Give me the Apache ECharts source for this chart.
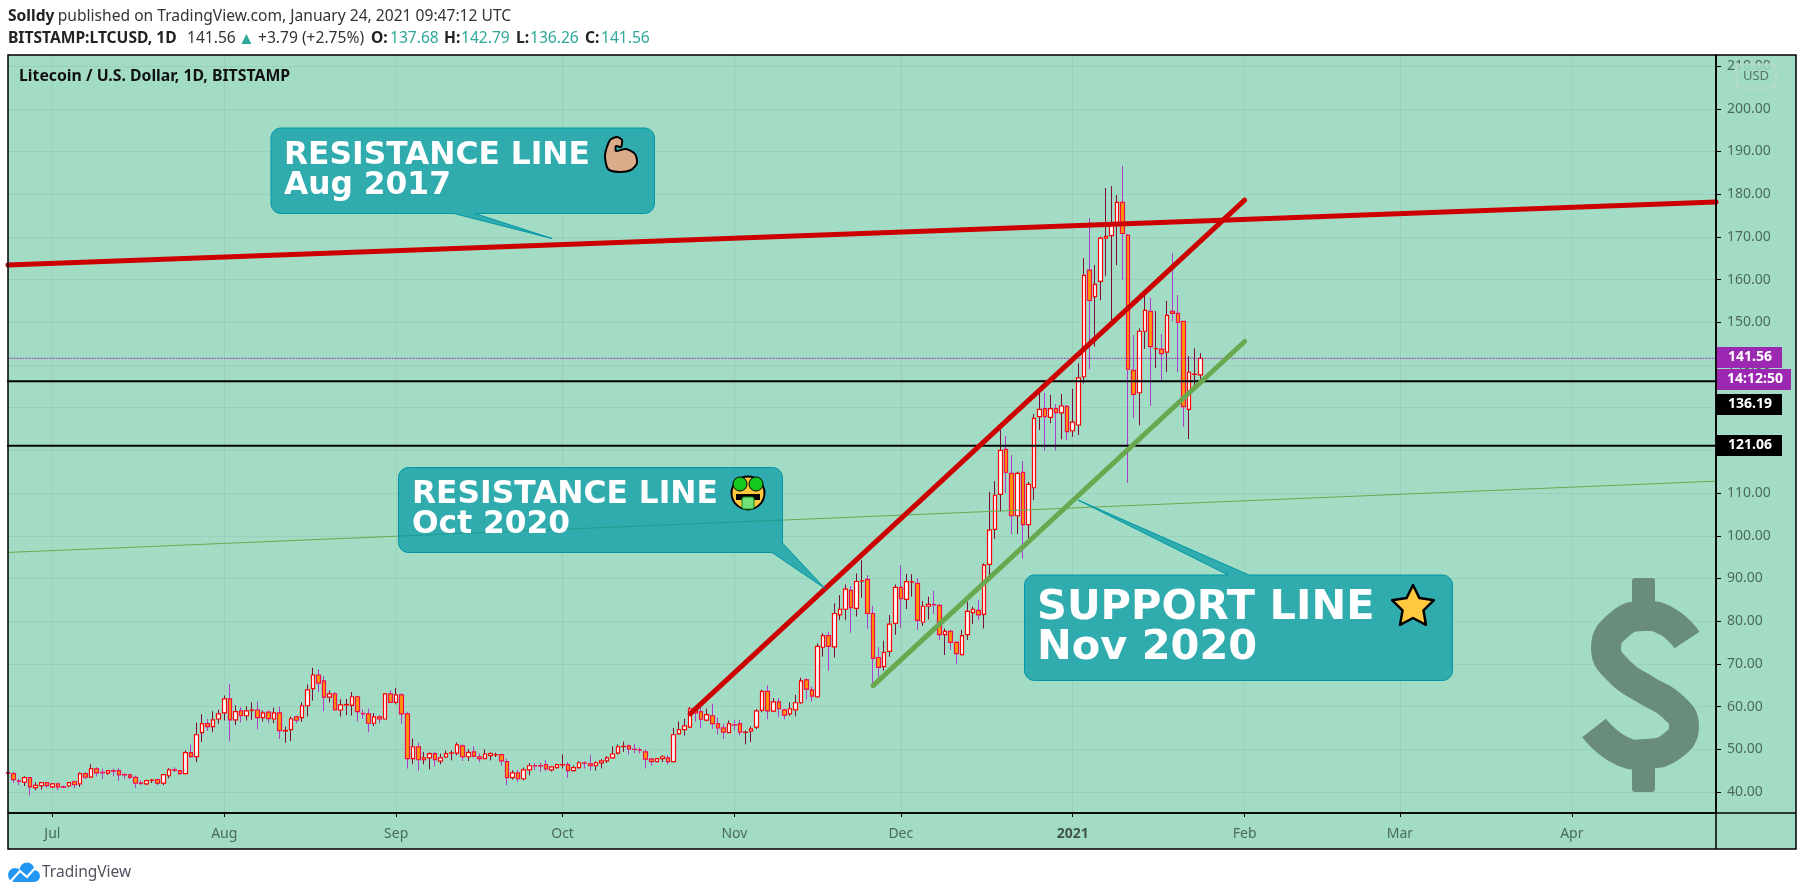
<!DOCTYPE html>
<html>
<head>
<meta charset="utf-8">
<title>LTCUSD</title>
<script src="https://cdn.jsdelivr.net/npm/echarts@6/dist/echarts.min.js"></script>
<style>
html, body { margin: 0; padding: 0; background: #fff; }
#chart { width: 1805px; height: 896px; }
</style>
</head>
<body>
<div id="chart"></div>
<script>
// daily candles, 23 Jun 2020 .. 24 Jan 2021, ten per row
var opens = [
  44.5,44.3,42.6,42.3,43.35,41.0,41.5,42.2,41.2,41.9,
  41.2,41.4,42.4,41.9,44.3,43.5,45.4,44.6,44.4,45.0,
  45.0,44.1,44.0,43.4,42.1,41.9,42.7,42.9,42.1,43.8,
  45.2,45.0,44.3,49.2,48.3,53.9,56.0,55.3,57.1,58.55,
  61.8,56.9,59.0,57.85,59.1,59.2,57.4,58.7,57.1,58.55,
  54.3,54.6,57.6,57.4,60.2,64.2,67.4,66.0,62.2,63.0,
  59.2,60.4,60.3,62.3,58.4,58.3,56.1,57.6,57.1,63.0,
  61.0,62.75,58.3,47.8,50.6,47.55,48.0,49.0,47.25,48.2,
  49.1,49.1,50.8,48.25,49.4,48.25,47.8,48.5,48.7,48.75,
  47.1,43.35,44.5,43.1,45.2,46.15,46.15,46.4,45.2,45.7,
  46.35,46.4,45.0,45.7,46.8,46.6,46.15,46.8,47.3,48.0,
  49.1,50.65,50.8,50.0,49.85,49.4,47.7,47.1,47.8,48.0,
  47.1,53.6,54.6,55.2,59.6,58.8,56.85,57.85,56.0,55.0,
  53.9,55.75,56.0,53.95,54.25,55.2,59.1,63.55,58.95,61.1,
  59.25,58.3,59.25,60.9,66.25,63.9,62.3,73.9,76.6,74.0,
  81.5,82.8,87.2,83.0,89.4,89.8,81.8,71.5,69.35,72.95,
  79.5,87.9,85.1,89.15,88.85,79.75,83.5,83.9,83.7,76.85,
  77.6,75.05,72.15,76.85,82.0,82.55,81.6,93.3,101.5,109.7,
  120.25,114.6,104.7,114.85,102.6,111.25,127.9,129.8,127.75,129.8,
  128.8,130.3,124.6,125.95,137.25,162.2,156.0,159.6,169.7,170.3,
  173.2,178.1,170.4,138.75,133.5,147.9,152.55,143.8,143.7,143.0,
  152.55,152.1,150.2,129.6,137.8,137.68
];
var closes = [
  44.4,42.9,42.5,43.35,41.2,41.55,42.2,41.5,41.9,41.2,
  41.1,42.2,41.7,44.3,43.5,45.5,44.5,44.5,45.0,44.9,
  44.0,44.0,43.4,42.1,42.0,42.65,42.8,42.1,44.05,45.2,
  45.1,44.3,49.2,48.3,53.4,56.0,55.3,56.9,58.3,61.8,
  56.9,58.8,57.85,59.0,59.2,57.4,58.55,57.2,58.55,54.35,
  54.4,57.15,56.8,60.2,63.9,67.4,65.5,62.2,63.0,59.2,
  60.4,60.5,62.3,58.8,58.3,56.1,57.6,57.1,63.0,61.0,
  62.75,58.3,47.8,50.6,47.55,48.0,49.0,47.6,48.0,49.0,
  49.15,51.05,48.25,49.3,48.4,47.8,48.9,49.0,48.75,47.3,
  43.35,44.5,43.1,45.2,46.15,46.1,46.1,45.4,45.9,46.4,
  46.4,45.0,45.7,46.85,46.75,46.15,46.85,47.3,48.0,48.9,
  50.6,50.7,50.1,49.95,49.8,47.7,47.1,47.8,48.25,47.1,
  53.4,54.6,55.5,59.5,58.5,57.05,58.1,56.0,55.0,54.0,
  56.0,55.7,54.0,54.0,54.8,59.0,63.55,59.0,61.1,59.5,
  58.0,59.5,60.9,66.0,64.1,62.45,74.1,76.6,74.1,81.8,
  82.8,87.5,83.2,89.3,89.45,81.8,71.3,69.2,72.7,79.3,
  87.9,85.3,89.25,89.2,80.2,83.5,83.95,83.85,76.85,77.6,
  75.05,72.4,76.6,82.3,82.8,81.5,93.15,101.35,109.5,120.0,
  114.85,104.7,114.6,102.6,112.05,127.5,129.6,127.9,129.8,128.85,
  130.4,124.4,126.6,137.0,161.0,155.1,158.9,169.7,170.1,173.0,
  178.1,170.8,139.0,133.1,147.9,152.8,144.3,143.85,142.65,151.6,
  152.1,150.0,130.25,138.3,137.85,141.56
];
var lows = [
  44.1,42.1,41.6,41.4,39.2,40.4,40.6,41.0,40.9,40.4,
  40.9,41.1,40.9,41.2,43.0,43.3,43.7,43.0,44.0,43.7,
  42.6,43.0,43.0,40.9,41.6,41.6,42.1,41.6,41.6,43.2,
  44.7,44.0,44.2,48.0,47.0,51.7,54.3,54.0,56.0,56.75,
  51.9,55.7,56.3,56.75,56.9,54.7,56.5,56.1,56.1,52.4,
  51.5,51.9,56.1,56.4,57.7,61.4,63.4,58.9,61.0,59.1,
  57.7,58.0,57.9,56.5,57.1,54.0,55.4,56.1,57.0,60.9,
  60.5,56.0,45.5,46.5,45.0,46.5,45.3,46.0,46.5,47.9,
  47.4,48.6,47.25,47.25,48.0,47.0,47.7,47.4,48.2,46.2,
  41.6,42.9,42.3,42.7,43.9,45.1,44.7,44.9,44.8,45.5,
  45.5,43.3,44.8,45.5,45.5,45.0,45.0,45.5,46.8,47.9,
  48.8,49.4,48.8,49.1,49.0,45.5,46.2,47.0,47.0,46.5,
  47.0,53.4,53.25,55.0,56.5,55.0,56.6,54.8,53.5,52.4,
  53.8,54.4,53.25,51.15,51.7,54.7,58.7,57.0,58.7,57.5,
  57.0,57.85,57.7,60.65,61.65,61.2,62.0,71.7,68.4,71.5,
  80.3,80.3,77.3,81.1,85.5,78.25,65.4,66.6,68.4,71.7,
  76.8,78.5,82.85,85.75,77.9,78.9,80.4,81.7,75.6,72.1,
  73.25,70.0,72.0,75.6,79.35,80.3,78.3,90.8,99.3,105.65,
  110.0,100.4,100.4,94.65,99.4,108.4,124.8,120.0,126.4,120.0,
  122.6,122.4,123.2,123.6,135.7,139.0,144.3,155.2,160.8,150.5,
  163.4,159.9,112.4,127.6,125.9,143.75,130.4,139.3,136.5,138.35,
  150.3,138.35,125.55,122.65,135.3,136.26
];
var highs = [
  44.7,44.7,43.1,43.7,43.4,42.3,42.3,42.3,42.1,42.2,
  41.5,42.3,42.7,44.6,44.6,46.5,45.8,45.5,45.1,45.5,
  45.6,44.3,44.3,43.8,42.7,42.9,43.0,43.1,44.2,45.6,
  45.8,45.2,49.75,51.1,56.2,58.2,57.1,58.9,59.25,62.6,
  65.3,60.3,59.9,60.1,61.0,61.2,59.1,59.1,59.7,60.0,
  55.3,57.7,57.9,61.0,65.2,69.1,68.7,67.2,63.8,63.4,
  61.7,61.8,63.4,62.5,59.3,59.5,58.5,58.0,63.1,63.8,
  64.4,63.15,58.8,52.5,51.6,49.4,49.3,49.35,49.0,49.7,
  49.7,51.6,51.15,50.0,50.7,49.0,50.0,49.3,49.2,49.0,
  47.8,45.1,45.2,45.7,46.8,46.8,46.9,47.4,46.0,46.6,
  48.8,47.0,46.2,47.2,47.2,48.6,47.2,47.7,48.4,50.7,
  51.15,51.8,51.15,51.3,50.4,50.0,48.0,48.0,48.6,48.6,
  55.0,56.5,57.15,59.9,60.3,59.9,59.5,60.65,57.5,56.0,
  56.75,56.9,56.9,54.4,55.35,59.4,63.95,64.95,62.0,62.0,
  59.5,61.0,62.75,66.75,66.65,64.7,74.8,77.2,77.55,84.2,
  86.1,88.6,88.2,91.2,94.3,90.8,83.6,73.9,75.4,81.45,
  88.6,93.15,91.05,91.0,90.1,84.7,85.75,87.1,84.0,78.3,
  78.0,75.3,77.95,84.5,83.4,85.0,93.55,110.25,112.8,124.8,
  123.4,118.9,115.0,117.5,112.6,128.5,134.0,133.5,133.0,130.9,
  133.2,130.6,134.4,140.4,165.0,174.35,163.4,170.05,181.45,181.9,
  179.8,186.6,170.7,147.0,148.6,156.4,155.7,152.6,147.25,155.0,
  166.2,156.4,150.3,142.1,143.9,142.79
];

var firstDay = '2020-06-23';
var dayCount = 309;   // chart runs on past the last candle to late April
var monthLabels = {
  '2020-07-01': 'Jul', '2020-08-01': 'Aug', '2020-09-01': 'Sep', '2020-10-01': 'Oct',
  '2020-11-01': 'Nov', '2020-12-01': 'Dec', '2021-01-01': '2021', '2021-02-01': 'Feb',
  '2021-03-01': 'Mar', '2021-04-01': 'Apr'
};
var lastDay = '2021-04-27';

// drawn trend lines: [date, price]
var resistance2017 = [[firstDay, 163.4], [lastDay, 178.2]];
var resistance2020 = [['2020-10-24', 58.3], ['2021-02-01', 178.6]];
var support2020 = [['2020-11-26', 64.9], ['2021-02-01', 145.5]];
var lowerChannel = [[firstDay, 96.1], [lastDay, 112.8]];
var levelUpper = 136.19;
var levelLower = 121.06;
var lastPrice = 141.56;

var days = [];
var t = Date.parse(firstDay + 'T00:00:00Z');
for (var i = 0; i < dayCount; i++) {
  days.push(new Date(t + i * 86400000).toISOString().slice(0, 10));
}

var wickData = opens.map(function (o, i) { return [o, closes[i], lows[i], highs[i]]; });
var bodyData = opens.map(function (o, i) {
  return [o, closes[i], Math.min(o, closes[i]), Math.max(o, closes[i])];
});

function isMonthStart(index, value) { return monthLabels[value] !== undefined; }

function trend(points, color, width, type) {
  return {
    type: 'line', data: points, symbol: 'none', silent: true, z: 5,
    lineStyle: { color: color, width: width, type: type || 'solid', cap: 'round' }
  };
}

var BODY = '"Noto Sans", sans-serif';
var CALLOUT = '"DejaVu Sans", sans-serif';
var TEAL = 'rgba(0,151,167,0.7)';

function corner(pts, cx, cy, r, from) {
  for (var k = 0; k <= 6; k++) {
    var a = (from + k * 15) * Math.PI / 180;
    pts.push([cx + r * Math.cos(a), cy + r * Math.sin(a)]);
  }
}

// rounded box plus the pointer, as one filled polygon
function callout(x1, y1, x2, y2, tail) {
  var r = 10, pts = [];
  corner(pts, x1 + r, y1 + r, r, 180);
  if (tail.side === 'top') pts.push([tail.a, y1], [tail.x, tail.y], [tail.b, y1]);
  corner(pts, x2 - r, y1 + r, r, 270);
  if (tail.side === 'corner') {
    pts.push([x2, tail.b], [tail.x, tail.y], [tail.a, y2]);
  } else {
    corner(pts, x2 - r, y2 - r, r, 0);
    if (tail.side === 'bottom') pts.push([tail.b, y2], [tail.x, tail.y], [tail.a, y2]);
  }
  corner(pts, x1 + r, y2 - r, r, 90);
  return { type: 'polygon', z: 20, silent: true, shape: { points: pts },
    style: { fill: TEAL, stroke: '#0097a7', lineWidth: 1 } };
}

function label(x, y, text, size, lineHeight) {
  return { type: 'text', z: 21, x: x, y: y, silent: true,
    style: { text: text, fill: '#fff', font: 'bold ' + size + 'px ' + CALLOUT, lineHeight: lineHeight, textVerticalAlign: 'top' } };
}

function priceTag(x, y, w, h, fill, text) {
  return { type: 'group', silent: true, children: [
    { type: 'rect', z: 25, shape: { x: x, y: y, width: w, height: h }, style: { fill: fill } },
    { type: 'text', z: 26, x: x + w / 2 + 1, y: y + h / 2,
      style: { text: text, fill: '#fff', font: 'bold 14px ' + BODY, textAlign: 'center', textVerticalAlign: 'middle' } }
  ] };
}

function headerText(x, text, font, fill) {
  return { type: 'text', z: 10, x: x, y: 39, silent: true,
    style: { text: text, font: font, fill: fill, textVerticalAlign: 'middle' } };
}

function star(cx, cy, R) {
  var pts = [];
  for (var i = 0; i < 10; i++) {
    var rr = i % 2 ? R * 0.5 : R, a = -Math.PI / 2 + i * Math.PI / 5;
    pts.push([cx + rr * Math.cos(a), cy + rr * Math.sin(a)]);
  }
  return { type: 'polygon', z: 22, silent: true, shape: { points: pts },
    style: { fill: '#ffc83d', stroke: '#000', lineWidth: 2.5, lineJoin: 'round' } };
}

var faceX = 748, faceY = 493;
var DOLLAR = '#6a8c7c';
var GREEN_TEXT = '#2fa89a';
var BOLD_H = 'bold 15.6px ' + BODY;
var NORM_H = '15.6px ' + BODY;
var richHeader = {
  b: { font: BOLD_H, fill: '#222' },
  n: { font: NORM_H, fill: '#333' }
};
var graphics = [
  // panes
  { type: 'rect', z: -1, silent: true, shape: { x: 8, y: 55, width: 1788, height: 794 }, style: { fill: '#a2dcc4' } },
  { type: 'rect', z: 30, silent: true, shape: { x: 8, y: 55, width: 1788, height: 794 }, style: { fill: 'none', stroke: '#000', lineWidth: 1.5 } },
  { type: 'line', z: 30, silent: true, shape: { x1: 1716, y1: 55, x2: 1716, y2: 849 }, style: { stroke: '#000', lineWidth: 1.5 } },
  { type: 'line', z: 30, silent: true, shape: { x1: 8, y1: 813, x2: 1796, y2: 813 }, style: { stroke: '#000', lineWidth: 1.5 } },
  // header
  { type: 'text', z: 10, x: 8, y: 17, silent: true, style: { text: '{b|Solldy} {n|published on TradingView.com, January 24, 2021 09:47:12 UTC}', textVerticalAlign: 'middle', rich: richHeader } },
  headerText(8, 'BITSTAMP:LTCUSD, 1D', BOLD_H, '#222'),
  headerText(187, '141.56', NORM_H, '#333'),
  headerText(238, '▲', '17px ' + BODY, GREEN_TEXT),
  headerText(258, '+3.79 (+2.75%)', NORM_H, '#333'),
  headerText(371, 'O:', BOLD_H, '#222'), headerText(390, '137.68', NORM_H, GREEN_TEXT),
  headerText(444, 'H:', BOLD_H, '#222'), headerText(461, '142.79', NORM_H, GREEN_TEXT),
  headerText(516, 'L:', BOLD_H, '#222'), headerText(530, '136.26', NORM_H, GREEN_TEXT),
  headerText(585, 'C:', BOLD_H, '#222'), headerText(601, '141.56', NORM_H, GREEN_TEXT),
  { type: 'text', z: 10, x: 19, y: 76, silent: true, style: { text: 'Litecoin / U.S. Dollar, 1D, BITSTAMP', font: 'bold 15.8px ' + BODY, fill: '#111', textVerticalAlign: 'middle' } },
  // currency box
  { type: 'rect', z: 15, silent: true, shape: { x: 1736, y: 64, width: 40, height: 24, r: 4 }, style: { fill: 'rgba(162,220,196,0.85)', stroke: '#c5d6d6', lineWidth: 1 } },
  { type: 'text', z: 16, x: 1756, y: 76, silent: true, style: { text: 'USD', font: '13px ' + BODY, fill: '#57736a', textAlign: 'center', textVerticalAlign: 'middle' } },
  // big dollar icon
  { type: 'polyline', z: 8, silent: true, shape: { smooth: 0.5, points: [[1687, 640], [1668, 622], [1644, 616], [1620, 624], [1606, 648], [1620, 672], [1646, 690], [1672, 706], [1684, 726], [1672, 746], [1646, 754], [1620, 750], [1594, 728]] },
    style: { stroke: DOLLAR, lineWidth: 30, fill: 'none', lineCap: 'butt' } },
  { type: 'rect', z: 8, silent: true, shape: { x: 1632, y: 578, width: 23, height: 30, r: 3 }, style: { fill: DOLLAR } },
  { type: 'rect', z: 8, silent: true, shape: { x: 1632, y: 764, width: 23, height: 28, r: 3 }, style: { fill: DOLLAR } },
  // callouts
  callout(271, 128, 654.5, 213.5, { side: 'bottom', a: 454, b: 475, x: 552, y: 238.5 }),
  label(284, 141, 'RESISTANCE LINE\nAug 2017', 31.3, 30),
  { type: 'polygon', z: 22, silent: true, shape: { smooth: 0.25, points: [[610, 140], [617, 137], [622, 140], [621, 147], [616, 146], [616, 151], [626, 149], [635, 154], [637, 163], [631, 170], [619, 172], [608, 169], [605, 155]] },
    style: { fill: '#dcab8a', stroke: '#000', lineWidth: 2 } },
  callout(398.5, 467.5, 782.5, 552.5, { side: 'corner', a: 772, b: 543, x: 825, y: 588.5 }),
  label(412, 480, 'RESISTANCE LINE\nOct 2020', 31.3, 30),
  { type: 'circle', z: 22, silent: true, shape: { cx: faceX, cy: faceY, r: 16.5 }, style: { fill: '#ffc83d', stroke: '#000', lineWidth: 2 } },
  { type: 'circle', z: 23, silent: true, shape: { cx: faceX - 8, cy: faceY - 9, r: 7 }, style: { fill: '#14c81e', stroke: '#000', lineWidth: 1 } },
  { type: 'circle', z: 23, silent: true, shape: { cx: faceX + 8, cy: faceY - 9, r: 7 }, style: { fill: '#14c81e', stroke: '#000', lineWidth: 1 } },
  { type: 'rect', z: 23, silent: true, shape: { x: faceX - 12, y: faceY + 1, width: 24, height: 6 }, style: { fill: '#000' } },
  { type: 'rect', z: 24, silent: true, shape: { x: faceX - 6, y: faceY + 4, width: 12, height: 12, r: 2 }, style: { fill: '#6fe07a', stroke: '#0a8a14', lineWidth: 1 } },
  callout(1024.5, 575, 1452.5, 680.5, { side: 'top', a: 1228, b: 1249, x: 1078, y: 500 }),
  label(1037, 588, 'SUPPORT LINE\nNov 2020', 41.5, 40),
  star(1413, 607, 22),
  // price tags
  priceTag(1716, 347, 66, 21, '#9c27b0', '141.56'),
  priceTag(1717, 369, 74, 21, '#9c27b0', '14:12:50'),
  priceTag(1716, 394, 66, 21, '#000', '136.19'),
  priceTag(1716, 435, 66, 21, '#000', '121.06'),
  // footer logo
  { type: 'circle', z: 10, silent: true, shape: { cx: 27, cy: 870, r: 7.5 }, style: { fill: '#2196f3' } },
  { type: 'circle', z: 10, silent: true, shape: { cx: 34, cy: 876, r: 6 }, style: { fill: '#2196f3' } },
  { type: 'circle', z: 10, silent: true, shape: { cx: 15, cy: 875, r: 7 }, style: { fill: '#2196f3' } },
  { type: 'rect', z: 10, silent: true, shape: { x: 15, y: 872, width: 19, height: 10 }, style: { fill: '#2196f3' } },
  { type: 'polyline', z: 11, silent: true, shape: { points: [[10, 882], [20, 871], [27, 877], [36, 867]] }, style: { stroke: '#fff', lineWidth: 2, fill: 'none' } },
  { type: 'text', z: 10, x: 42, y: 873, silent: true, style: { text: 'TradingView', font: '15.5px ' + BODY, fill: '#50535e', textVerticalAlign: 'middle' } }
];

var chart = echarts.init(document.getElementById('chart'), null, { renderer: 'canvas' });
chart.setOption({
  animation: false,
  backgroundColor: '#fff',
  textStyle: { fontFamily: BODY },
  graphic: { elements: graphics },
  grid: { left: 8, right: 89, top: 55, bottom: 83 },
  xAxis: {
    type: 'category', data: days, boundaryGap: false,
    axisLine: { lineStyle: { color: '#000', width: 1.5 } },
    axisTick: { show: true, alignWithLabel: true, interval: isMonthStart, length: 4, lineStyle: { color: '#000' } },
    axisLabel: {
      interval: isMonthStart, margin: 14, fontSize: 14, color: '#4d6a5f',
      formatter: function (value) {
        var text = monthLabels[value];
        return text === '2021' ? '{y|2021}' : text;
      },
      rich: { y: { fontWeight: 'bold', fontSize: 14, color: '#3f544c' } }
    },
    splitLine: { show: true, interval: isMonthStart, lineStyle: { color: 'rgba(120,140,150,0.16)' } }
  },
  yAxis: {
    type: 'value', position: 'right', min: 35.08, max: 212.6, splitNumber: 18, scale: true,
    axisLine: { show: true, lineStyle: { color: '#000', width: 1.5 } },
    axisTick: { show: true, length: 5, lineStyle: { color: '#000' } },
    axisLabel: {
      margin: 11, fontSize: 14, color: '#4d6a5f', showMinLabel: false, showMaxLabel: false, padding: [5, 0, 0, 0],
      formatter: function (value) { return value % 10 === 0 ? value.toFixed(2) : ''; }
    },
    splitLine: { show: true, lineStyle: { color: 'rgba(120,140,150,0.16)' } }
  },
  series: [
    {
      name: 'wicks', type: 'candlestick', data: wickData, barWidth: 1, silent: true, z: 3,
      itemStyle: { color: '#7a0c3c', color0: '#a93fcb', borderColor: '#7a0c3c', borderColor0: '#a93fcb', borderWidth: 1 }
    },
    {
      name: 'bodies', type: 'candlestick', data: bodyData, barWidth: 4, silent: true, z: 4,
      itemStyle: { color: '#ffffff', color0: '#ff9800', borderColor: '#ff0000', borderColor0: '#f50a50', borderWidth: 1.2 }
    },
    trend(lowerChannel, '#6aa84f', 1),
    trend([[firstDay, lastPrice], [lastDay, lastPrice]], '#9c27b0', 1, [1, 2]),
    trend([[firstDay, levelUpper], [lastDay, levelUpper]], '#000', 2),
    trend([[firstDay, levelLower], [lastDay, levelLower]], '#000', 2),
    trend(support2020, '#6aa84f', 5),
    trend(resistance2020, '#cc0000', 5),
    trend(resistance2017, '#cc0000', 5)
  ]
});
</script>
</body>
</html>
